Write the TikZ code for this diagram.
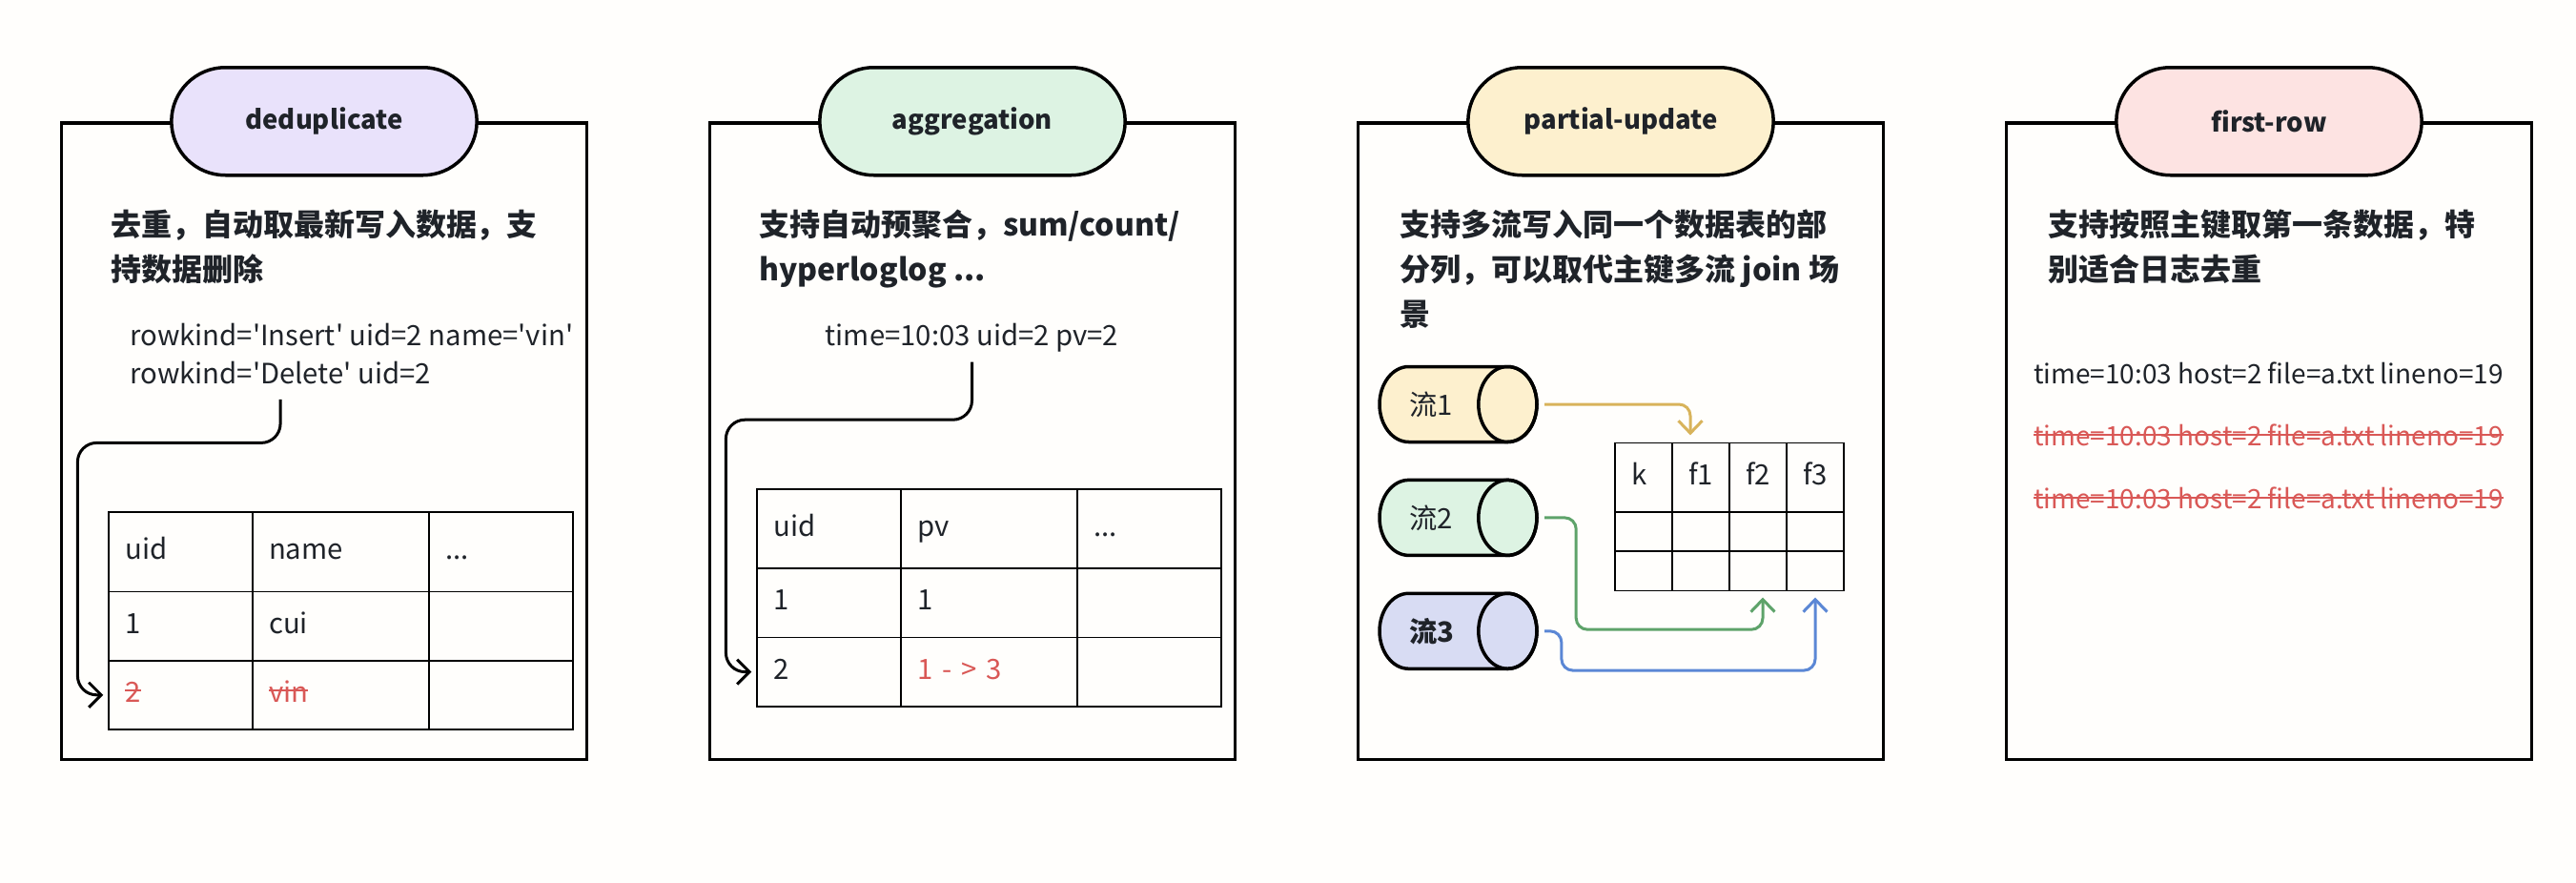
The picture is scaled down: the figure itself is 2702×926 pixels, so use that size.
\documentclass[tikz,border=0pt]{standalone}
\usepackage{fontspec}
\setmainfont{Noto Sans CJK SC}
\usetikzlibrary{arrows.meta,shapes.misc,positioning,calc}
\definecolor{inkgray}{RGB}{31,35,41}
\definecolor{strikered}{RGB}{217,88,86}
\definecolor{tagpurple}{RGB}{233,226,251}
\definecolor{taggreen}{RGB}{221,243,227}
\definecolor{tagyellow}{RGB}{253,240,206}
\definecolor{tagpink}{RGB}{253,227,226}
\definecolor{tagblue}{RGB}{216,220,243}
\definecolor{lineyellow}{RGB}{216,179,91}
\definecolor{linegreen}{RGB}{94,163,106}
\definecolor{lineblue}{RGB}{91,135,213}
\definecolor{paper}{RGB}{255,254,252}

\newcommand{\tagfont}{\fontsize{27.5pt}{33pt}\selectfont\bfseries}
\newcommand{\descfont}{\fontsize{32pt}{47pt}\selectfont\bfseries}
\newcommand{\codefont}{\fontsize{29.3pt}{40pt}\selectfont}
\newcommand{\logfont}{\fontsize{28pt}{40pt}\selectfont}
\newcommand{\sq}{\textquotesingle}
% red text with a line through it
\newcommand{\gone}[1]{{\color{strikered}\setbox0\hbox{#1}%
  \rlap{\rule[0.37em]{\wd0}{2.2pt}}\box0}}

\begin{document}
\begin{tikzpicture}[x=1pt, y=-1pt,
  every node/.style={text=inkgray},
  panel/.style={draw=black, line width=3.5pt, minimum width=551pt,
    minimum height=667.5pt, inner sep=0pt},
  tag/.style={rounded rectangle, draw=black, line width=3.5pt, fill=#1,
    minimum width=327pt, minimum height=113pt, font=\tagfont},
  desc/.style={anchor=north west, align=left, inner sep=0pt, font=\descfont},
  code/.style={anchor=base west, inner sep=0pt, font=\codefont},
  cell/.style={draw=black, line width=1.8pt, inner xsep=17pt, inner ysep=0pt,
    outer sep=0pt, text width=#1, text height=22pt, text depth=7pt,
    align=left, font=\codefont},
  hd/.style={minimum height=83.4pt},
  rw/.style={minimum height=72.2pt},
  thin/.style={minimum height=41.2pt},
  flow/.style={-{Straight Barb[length=13pt,width=26pt]}, line width=3pt,
    rounded corners=20pt},
  feed/.style={-{Straight Barb[length=13pt,width=25pt]}, line width=3pt,
    rounded corners=12pt},
  % lying cylinder: rounded left end, open ellipse on the right
  stream/.style={minimum height=83pt, inner ysep=0pt, inner xsep=33.5pt,
    text width=102pt, align=left, fill=paper, font=\codefont,
    path picture={
      \draw[fill=#1, line width=3.5pt]
        ([xshift=51.9pt,yshift=39.5pt]path picture bounding box.center)
        -- ([xshift=-51.9pt,yshift=39.5pt]path picture bounding box.center)
        arc[start angle=90, end angle=270, x radius=30.6pt, y radius=39.5pt]
        -- ([xshift=51.9pt,yshift=-39.5pt]path picture bounding box.center)
        arc[start angle=-90, end angle=90, x radius=30.6pt, y radius=39.5pt]
        -- cycle;
      \draw[line width=3.5pt] ([xshift=51.9pt]path picture bounding box.center)
        ellipse [x radius=30.6pt, y radius=39.5pt];
    }},
]
  \fill[paper] (0,0) rectangle (2702,926);

  % --- deduplicate ---
  \node[panel] (dd-box) at (340,462.75) {};
  \node[tag=tagpurple] (dd-tag) at (dd-box.north) {deduplicate};
  \node[desc] (dd-desc) at (115.8,220) {去重，自动取最新写入数据，支\\持数据删除};
  \node[code] (dd-ins) at (136.1,362.7) {rowkind=\sq Insert\sq{} uid=2 name=\sq vin\sq};
  \node[code] (dd-del) at (136.1,402.4) {rowkind=\sq Delete\sq{} uid=2};
  \node[cell=116.8pt, hd, anchor=north west] (dd-11) at (114.3,537.1) {uid};
  \node[cell=151.2pt, hd, right=0pt of dd-11] (dd-12) {name};
  \node[cell=116.7pt, hd, right=0pt of dd-12] (dd-13) {...};
  \node[cell=116.8pt, rw, below=0pt of dd-11] (dd-21) {1};
  \node[cell=151.2pt, rw, below=0pt of dd-12] (dd-22) {cui};
  \node[cell=116.7pt, rw, below=0pt of dd-13] (dd-23) {};
  \node[cell=116.8pt, rw, below=0pt of dd-21] (dd-31) {\gone{2}};
  \node[cell=151.2pt, rw, below=0pt of dd-22] (dd-32) {\gone{vin}};
  \node[cell=116.7pt, rw, below=0pt of dd-23] (dd-33) {};
  \coordinate (dd-bend) at (81.4,464.4);
  \draw[flow] ([yshift=-16pt]dd-del.south) |- (dd-bend) |- ([xshift=-6pt]dd-31.west);

  % --- aggregation ---
  \node[panel] (ag-box) at (1020,462.75) {};
  \node[tag=taggreen] (ag-tag) at (ag-box.north) {aggregation};
  \node[desc] (ag-desc) at (795.8,220) {支持自动预聚合，sum/count/\\hyperloglog ...};
  \node[code, anchor=base] (ag-row) at (1019.5,362.7) {time=10:03 uid=2 pv=2};
  \node[cell=116.8pt, hd, anchor=north west] (ag-11) at (794.3,512.9) {uid};
  \node[cell=151.2pt, hd, right=0pt of ag-11] (ag-12) {pv};
  \node[cell=116.7pt, hd, right=0pt of ag-12] (ag-13) {...};
  \node[cell=116.8pt, rw, below=0pt of ag-11] (ag-21) {1};
  \node[cell=151.2pt, rw, below=0pt of ag-12] (ag-22) {1};
  \node[cell=116.7pt, rw, below=0pt of ag-13] (ag-23) {};
  \node[cell=116.8pt, rw, below=0pt of ag-21] (ag-31) {2};
  \node[cell=151.2pt, rw, below=0pt of ag-22, text=strikered] (ag-32) {1 - > 3};
  \node[cell=116.7pt, rw, below=0pt of ag-23] (ag-33) {};
  \coordinate (ag-bend) at (761.4,440.2);
  \draw[flow] ([yshift=-10pt]ag-row.south) |- (ag-bend) |- ([xshift=-6pt]ag-31.west);

  % --- partial-update ---
  \node[panel] (pu-box) at (1700,462.75) {};
  \node[tag=tagyellow] (pu-tag) at (pu-box.north) {partial-update};
  \node[desc] (pu-desc) at (1468.2,220)
    {支持多流写入同一个数据表的部\\分列，可以取代主键多流 join 场\\景};
  \node[stream=tagyellow] (pu-s1) at (1529.5,424) {流1};
  \node[stream=taggreen, below=35.5pt of pu-s1] (pu-s2) {流2};
  \node[stream=tagblue, below=35.5pt of pu-s2, font=\codefont\bfseries] (pu-s3) {流3};
  \node[cell=26pt, minimum height=72.7pt, anchor=north west] (pu-11) at (1694,464.4) {k};
  \node[cell=26pt, minimum height=72.7pt, right=0pt of pu-11] (pu-12) {f1};
  \node[cell=26pt, minimum height=72.7pt, right=0pt of pu-12] (pu-13) {f2};
  \node[cell=26pt, minimum height=72.7pt, right=0pt of pu-13] (pu-14) {f3};
  \foreach \c in {1,...,4}{
    \node[cell=26pt, thin, below=0pt of pu-1\c] (pu-2\c) {};
    \node[cell=26pt, thin, below=0pt of pu-2\c] (pu-3\c) {};
  }
  \draw[feed, lineyellow] ([xshift=6pt]pu-s1.east) -| ([xshift=-11pt,yshift=8pt]pu-12.north);
  \draw[feed, linegreen] ([xshift=6pt]pu-s2.east) -| ++(33,117.3)
    -| ([xshift=5pt,yshift=-7pt]pu-33.south);
  \draw[feed, lineblue] ([xshift=6pt]pu-s3.east) -| ++(17.7,41.3)
    -| ([yshift=-7pt]pu-34.south);

  % --- first-row ---
  \node[panel] (fr-box) at (2380,462.75) {};
  \node[tag=tagpink] (fr-tag) at (fr-box.north) {first-row};
  \node[desc] (fr-desc) at (2148.2,220) {支持按照主键取第一条数据，特\\别适合日志去重};
  \node[code, font=\logfont] (fr-keep) at (2132.9,402.4) {time=10:03 host=2 file=a.txt lineno=19};
  \node[code, font=\logfont] (fr-drop1) at (2132.9,467.8) {\gone{time=10:03 host=2 file=a.txt lineno=19}};
  \node[code, font=\logfont] (fr-drop2) at (2132.9,533.3) {\gone{time=10:03 host=2 file=a.txt lineno=19}};
\end{tikzpicture}
\end{document}
